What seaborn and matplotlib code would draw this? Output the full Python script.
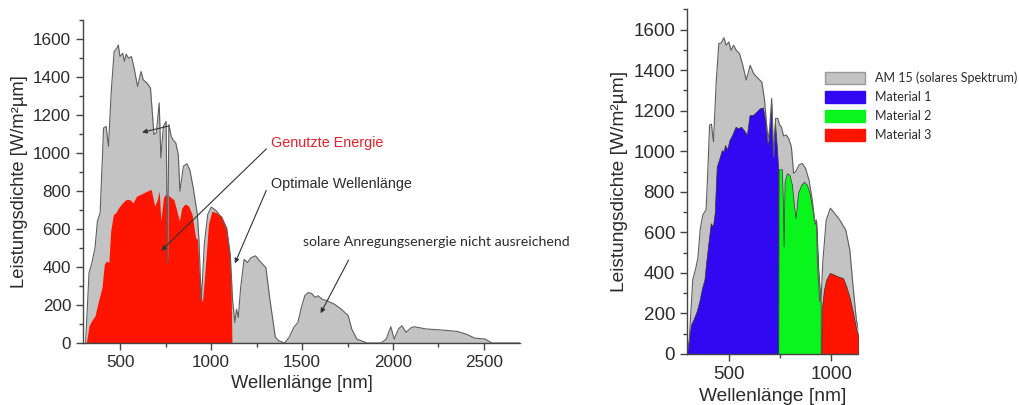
import matplotlib
matplotlib.use("Agg")
import matplotlib.pyplot as plt
from matplotlib.patches import Patch
from matplotlib.ticker import MultipleLocator
import seaborn as sns

# AM 1.5 spectrum (left panel, full range)
spec_nm = [309, 328, 342, 361, 374, 389, 408, 422, 435, 450, 466, 481, 489, 498, 513,
           523, 532, 546, 561, 576, 595, 614, 626, 647, 666, 685, 698, 714, 723, 737,
           752, 760, 767, 780, 790, 805, 819, 828, 847, 866, 882, 901, 924, 933, 939,
           946, 962, 981, 1000, 1029, 1057, 1086, 1105, 1118, 1130, 1139, 1149, 1162,
           1181, 1200, 1219, 1244, 1267, 1301, 1324, 1353, 1372, 1404, 1429, 1454, 1477,
           1496, 1515, 1534, 1553, 1572, 1588, 1610, 1639, 1677, 1715, 1754, 1773, 1801,
           1858, 1935, 1963, 1988, 2007, 2030, 2049, 2072, 2097, 2116, 2183, 2279, 2355,
           2403, 2450, 2507, 2545, 2700]
spec_val = [0, 371, 415, 502, 642, 686, 1133, 1141, 1036, 1325, 1535, 1553, 1570, 1509, 1526,
            1483, 1521, 1500, 1509, 1448, 1351, 1430, 1386, 1369, 1343, 1098, 1106, 1264, 975, 1141,
            1167, 420, 1150, 1089, 1071, 1054, 993, 800, 931, 944, 914, 818, 677, 537, 380,
            222, 520, 677, 716, 695, 660, 590, 467, 222, 108, 178, 135, 292,
            441, 424, 450, 459, 432, 397, 222, 30, 12, 0, 30, 82, 108,
            187, 249, 266, 261, 240, 249, 231, 222, 205, 179, 144, 74, 21,
            0, 0, 21, 86, 21, 74, 91, 56, 79, 86, 74, 68, 61,
            47, 26, 21, 0, 0]

# used energy (red, left panel)
used_nm = [313, 328, 342, 361, 380, 399, 412, 424, 437, 447, 462, 475, 490, 513, 532,
           551, 570, 590, 609, 628, 647, 670, 689, 704, 714, 723, 737, 748, 756, 760,
           765, 780, 794, 809, 825, 838, 857, 876, 895, 914, 924, 933, 943, 952, 966,
           985, 1004, 1029, 1057, 1086, 1099, 1109, 1114]
used_val = [0, 91, 117, 144, 222, 292, 415, 432, 424, 590, 677, 686, 712, 739, 756,
            756, 739, 774, 782, 791, 800, 809, 721, 756, 800, 642, 765, 782, 779, 424,
            779, 765, 756, 704, 642, 712, 733, 721, 677, 555, 546, 397, 257, 214, 380,
            625, 695, 686, 669, 607, 502, 345, 0]

# AM 1.5 spectrum (right panel, 300-1130 nm)
spec2_nm = [296, 307, 324, 337, 349, 360, 373, 389, 397, 406, 415, 425, 438, 451, 463,
            476, 487, 500, 511, 523, 536, 552, 568, 585, 604, 621, 642, 661, 674, 691,
            699, 709, 719, 728, 739, 748, 756, 767, 780, 792, 805, 816, 829, 842, 858,
            874, 891, 907, 919, 927, 933, 943, 950, 959, 975, 995, 1016, 1041, 1070,
            1090, 1106, 1122, 1132]
spec2_val = [0, 71, 366, 415, 473, 612, 686, 711, 891, 1129, 1134, 1047, 1334, 1531, 1534,
             1560, 1523, 1539, 1498, 1523, 1498, 1482, 1424, 1351, 1424, 1383, 1359, 1342, 1252, 1055,
             1113, 1260, 973, 1162, 1162, 1129, 1121, 1075, 1080, 1063, 1022, 891, 904, 932, 940,
             916, 858, 760, 653, 661, 432, 259, 276, 464, 661, 719, 694, 661, 612,
             514, 333, 169, 120]

mat1_nm = [296, 315, 327, 343, 356, 369, 381, 389, 402, 412, 422, 431, 441, 454, 466,
           474, 482, 492, 503, 516, 533, 544, 560, 577, 588, 601, 617, 634, 650, 666,
           677, 689, 695, 707, 715, 725, 735, 741, 741]
mat1_val = [0, 144, 169, 210, 259, 325, 366, 448, 563, 645, 628, 694, 924, 965, 1006,
            998, 1031, 1009, 1055, 1080, 1121, 1113, 1121, 1099, 1080, 1178, 1178, 1194, 1211, 1216,
            1154, 1031, 1063, 1235, 988, 1145, 1006, 907, 0]

mat2_nm = [741, 743, 759, 764, 767, 772, 783, 796, 808, 818, 826, 837, 853, 866, 881,
           894, 907, 919, 927, 937, 948, 948]
mat2_val = [0, 911, 911, 727, 530, 850, 891, 883, 834, 727, 670, 793, 834, 850, 834,
            793, 719, 642, 653, 415, 260, 0]

mat3_nm = [951, 953, 964, 975, 992, 1008, 1033, 1057, 1073, 1090, 1106, 1122, 1132]
mat3_val = [0, 218, 317, 366, 399, 394, 382, 374, 333, 276, 202, 120, 87]

legend_labels = ["AM 15 (solares Spektrum)", "Material 1", "Material 2", "Material 3"]

GRAY = "#c3c3c3"
EDGE = "#5e5e5e"
RED = "#ff1400"
BLUE = "#3008f2"
GREEN = "#0af51c"
TXT = "#2b2b2b"

sns.set_style("ticks")
plt.rcParams["font.family"] = ["Liberation Sans", "DejaVu Sans"]
plt.rcParams["text.color"] = TXT
plt.rcParams["axes.labelcolor"] = TXT
plt.rcParams["xtick.color"] = "#444444"
plt.rcParams["ytick.color"] = "#444444"
plt.rcParams["xtick.labelcolor"] = TXT
plt.rcParams["ytick.labelcolor"] = TXT

fig = plt.figure(figsize=(10.19, 4.05), dpi=100)
ax1 = fig.add_axes([0.0815, 0.153, 0.429, 0.797])
ax2 = fig.add_axes([0.674, 0.126, 0.168, 0.851])


def style_axis(ax, xmax, tick_fs, label_fs):
    ax.set_xlim(295, xmax)
    ax.set_ylim(0, 1700)
    ax.set_yticks(range(0, 1601, 200))
    ax.yaxis.set_minor_locator(MultipleLocator(100))
    ax.xaxis.set_major_locator(MultipleLocator(500))
    ax.xaxis.set_minor_locator(MultipleLocator(250))
    ax.tick_params(which="major", direction="out", length=5, width=1, labelsize=tick_fs)
    ax.tick_params(which="minor", direction="out", length=3, width=1)
    sns.despine(ax=ax)
    for s in ("left", "bottom"):
        ax.spines[s].set_color("#444444")
        ax.spines[s].set_linewidth(1)
    ax.set_xlabel("Wellenlänge [nm]", fontsize=label_fs)
    ax.set_ylabel("Leistungsdichte [W/m²µm]", fontsize=label_fs)


# left panel
ax1.fill_between(spec_nm, spec_val, color=GRAY, linewidth=0)
ax1.fill_between(used_nm, used_val, color=RED, linewidth=0)
sns.lineplot(x=spec_nm, y=spec_val, ax=ax1, color=EDGE, linewidth=0.8, estimator=None)
ax1.axhline(0, color=EDGE, linewidth=0.8)
style_axis(ax1, 2700, 12.3, 13.2)

arrow = dict(arrowstyle="-|>", color="#333333", lw=0.8, mutation_scale=7)
ax1.annotate("", xy=(605, 1106), xytext=(784, 1147), arrowprops=arrow)
ax1.annotate("", xy=(714, 476), xytext=(1315, 1033), arrowprops=arrow)
ax1.annotate("", xy=(1124, 406), xytext=(1309, 817), arrowprops=arrow)
ax1.annotate("", xy=(1595, 144), xytext=(1763, 450), arrowprops=arrow)
ax1.text(1328, 1054, "Genutzte Energie", color="#e8202a", fontsize=10.4, va="center")
ax1.text(1328, 840, "Optimale Wellenlänge", color=TXT, fontsize=10.4, va="center")
ax1.text(1505, 534, "solare Anregungsenergie nicht ausreichend", color=TXT,
         fontsize=10.2, va="center", family=["Lato", "DejaVu Sans"], clip_on=False)

# right panel
ax2.fill_between(spec2_nm, spec2_val, color=GRAY, linewidth=0)
ax2.fill_between(mat1_nm, mat1_val, color=BLUE, edgecolor="#333333", linewidth=0.5)
ax2.fill_between(mat2_nm, mat2_val, color=GREEN, edgecolor="#333333", linewidth=0.5)
ax2.fill_between(mat3_nm, mat3_val, color=RED, edgecolor="#333333", linewidth=0.5)
sns.lineplot(x=spec2_nm, y=spec2_val, ax=ax2, color=EDGE, linewidth=0.8, estimator=None)
style_axis(ax2, 1130, 13.5, 13.8)

handles = [Patch(facecolor=GRAY, edgecolor="#9a9a9a"),
           Patch(facecolor=BLUE, edgecolor=BLUE),
           Patch(facecolor=GREEN, edgecolor=GREEN),
           Patch(facecolor=RED, edgecolor=RED)]
fig.legend(handles, legend_labels, loc="upper left", bbox_to_anchor=(0.8096, 0.823),
           frameon=False, borderpad=0, borderaxespad=0, handlelength=3.2,
           handleheight=1.0, handletextpad=0.8, labelspacing=0.56,
           prop={"family": ["Lato", "DejaVu Sans"], "size": 9})

fig.savefig("out.png", dpi=100)
